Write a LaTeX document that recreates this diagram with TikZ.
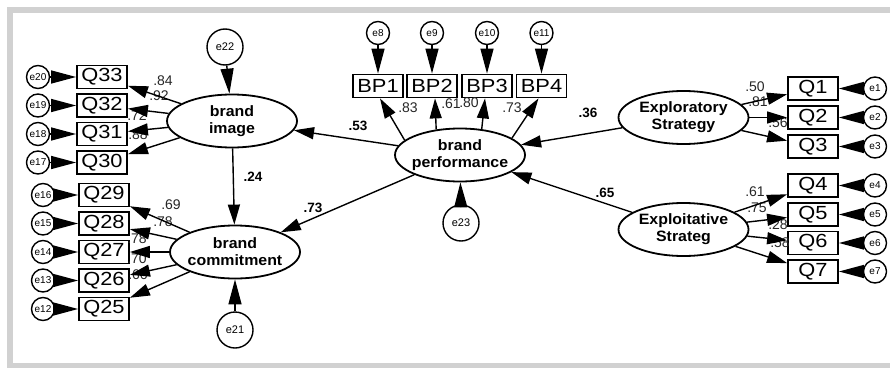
\documentclass[tikz,border=0pt]{standalone}
\usepackage{fontspec}
\setmainfont{Liberation Sans}
\newfontfamily\boxfont[FakeStretch=1.15]{Liberation Sans}
\newfontfamily\latfont[FakeStretch=1.06]{Liberation Sans}
\usetikzlibrary{arrows.meta,shapes.geometric}
\begin{document}
\begin{tikzpicture}[x=1pt,y=-1pt,
  obs/.style={draw, fill=white, line width=1.8pt, minimum width=50pt, minimum height=23pt, inner sep=0pt, font=\boxfont\fontsize{19}{19}\selectfont},
  lat/.style={draw, fill=white, ellipse, line width=1.8pt, minimum width=130pt, minimum height=53pt, inner ysep=0pt, inner xsep=-7pt, align=center, font=\latfont\bfseries\fontsize{15}{17}\selectfont},
  err/.style={draw, fill=white, circle, line width=1.4pt, minimum size=23pt, inner sep=0pt, font=\fontsize{10}{10}\selectfont},
  errbig/.style={err, minimum size=36pt, font=\fontsize{11}{11}\selectfont},
  pa/.style={line width=1.4pt, -{Triangle[length=20pt,width=12pt]}},
  ea/.style={line width=1.4pt, -{Triangle[length=25pt,width=13pt]}},
  lbl/.style={font=\fontsize{14}{14}\selectfont, inner sep=0pt, text=black!85},
  blbl/.style={font=\bfseries\fontsize{13.5}{13.5}\selectfont, inner sep=0pt}]
\useasboundingbox (0,0) rectangle (890,369);
\draw[black!18, line width=5.5pt] (895,10) -- (10,10) -- (10,365.5) -- (895,365.5);

% latent variables
\node[lat] (bi) at (232,121) {brand\\image};
\node[lat] (bc) at (235,252) {brand\\commitment};
\node[lat] (bp) at (460,155) {brand\\performance};
\node[lat] (es) at (683.5,117.5) {Exploratory\\Strategy};
\node[lat] (ex) at (683.5,229.5) {Exploitative\\Strateg};

% error terms of latents
\node[errbig] (e22) at (225,47) {e22};
\node[errbig] (e21) at (235,330) {e21};
\node[errbig] (e23) at (461,223) {e23};

% brand image indicators
\node[obs] (q33) at (102,77) {Q33};
\node[obs] (q32) at (102,105.5) {Q32};
\node[obs] (q31) at (102,134) {Q31};
\node[obs] (q30) at (102,162.5) {Q30};
\node[err] (e20) at (38,77) {e20};
\node[err] (e19) at (38,105.5) {e19};
\node[err] (e18) at (38,134) {e18};
\node[err] (e17) at (38,162.5) {e17};

% brand commitment indicators
\node[obs] (q29) at (104,195) {Q29};
\node[obs] (q28) at (104,223.5) {Q28};
\node[obs] (q27) at (104,252) {Q27};
\node[obs] (q26) at (104,280.5) {Q26};
\node[obs] (q25) at (104,309) {Q25};
\node[err] (e16) at (43,195) {e16};
\node[err] (e15) at (43,223.5) {e15};
\node[err] (e14) at (43,252) {e14};
\node[err] (e13) at (43,280.5) {e13};
\node[err] (e12) at (43,309) {e12};

% brand performance indicators
\node[obs] (bp1) at (378,86) {BP1};
\node[obs] (bp2) at (432,86) {BP2};
\node[obs] (bp3) at (487,86) {BP3};
\node[obs] (bp4) at (541.5,86) {BP4};
\node[err] (e8) at (378,33) {e8};
\node[err] (e9) at (432,33) {e9};
\node[err] (e10) at (487,33) {e10};
\node[err] (e11) at (541.5,33) {e11};

% exploratory indicators
\node[obs] (q1) at (813,88.5) {Q1};
\node[obs] (q2) at (813,117.5) {Q2};
\node[obs] (q3) at (813,146.5) {Q3};
\node[err] (e1) at (875,88.5) {e1};
\node[err] (e2) at (875,117.5) {e2};
\node[err] (e3) at (875,146.5) {e3};

% exploitative indicators
\node[obs] (q4) at (813,185.5) {Q4};
\node[obs] (q5) at (813,214.5) {Q5};
\node[obs] (q6) at (813,243) {Q6};
\node[obs] (q7) at (813,271.5) {Q7};
\node[err] (e4) at (875,185.5) {e4};
\node[err] (e5) at (875,214.5) {e5};
\node[err] (e6) at (875,243) {e6};
\node[err] (e7) at (875,271.5) {e7};

% labels
\node[lbl] (l84) at (163,81) {.84};
\node[lbl] (l92) at (159,96) {.92};
\node[lbl] (l72) at (137,116) {.72};
\node[lbl] (l88) at (138,135) {.88};
\node[lbl] (l69) at (171,205) {.69};
\node[lbl] (l78a) at (163,222) {.78};
\node[lbl] (l78b) at (137,239) {.78};
\node[lbl] (l70) at (137,259) {.70};
\node[lbl] (l66) at (138,275) {.66};
\node[lbl] (l83) at (408,108) {.83};
\node[lbl] (l61) at (451,104) {.61};
\node[lbl] (l80) at (469,103) {.80};
\node[lbl] (l73) at (512,108) {.73};
\node[lbl] (l50) at (755,87) {.50};
\node[lbl] (l81) at (758,102) {.81};
\node[lbl] (l56) at (778,123) {.56};
\node[lbl] (l61b) at (755,192) {.61};
\node[lbl] (l75) at (757,208) {.75};
\node[lbl] (l28) at (778,225) {.28};
\node[lbl] (l58) at (780,243) {.58};
\node[blbl] (l24) at (253,177) {.24};
\node[blbl] (l53) at (358,126) {.53};
\node[blbl] (l73b) at (313,208) {.73};
\node[blbl] (l36) at (588,113) {.36};
\node[blbl] (l65) at (605,193) {.65};

% structural paths
\draw[pa] (bi) -- (bc);
\draw[pa] (bp) -- (bi);
\draw[pa] (bp) -- (bc);
\draw[pa] (es) -- (bp);
\draw[pa] (ex) -- (bp);
\draw[ea] (e22) -- (bi);
\draw[ea] (e21) -- (bc);
\draw[ea] (e23) -- (bp);

% loadings
\foreach \q in {q33,q32,q31,q30} \draw[pa] (bi) -- (\q);
\foreach \q in {q29,q28,q27,q26,q25} \draw[pa] (bc) -- (\q);
\draw[pa] (bp.165) -- ([xshift=2pt]bp1.south);
\draw[pa] (bp.133) -- ([xshift=3pt]bp2.south);
\draw[pa] (bp.50) -- ([xshift=-2pt]bp3.south);
\draw[pa] (bp.18) -- ([xshift=-3pt]bp4.south);
\foreach \q in {q1,q2,q3} \draw[pa] (es) -- (\q);
\foreach \q in {q4,q5,q6,q7} \draw[pa] (ex) -- (\q);

% measurement errors
\foreach \e/\q in {e20/q33,e19/q32,e18/q31,e17/q30,e16/q29,e15/q28,e14/q27,e13/q26,e12/q25,e8/bp1,e9/bp2,e10/bp3,e11/bp4,e1/q1,e2/q2,e3/q3,e4/q4,e5/q5,e6/q6,e7/q7}
  \draw[ea] (\e) -- (\q);
\end{tikzpicture}
\end{document}
